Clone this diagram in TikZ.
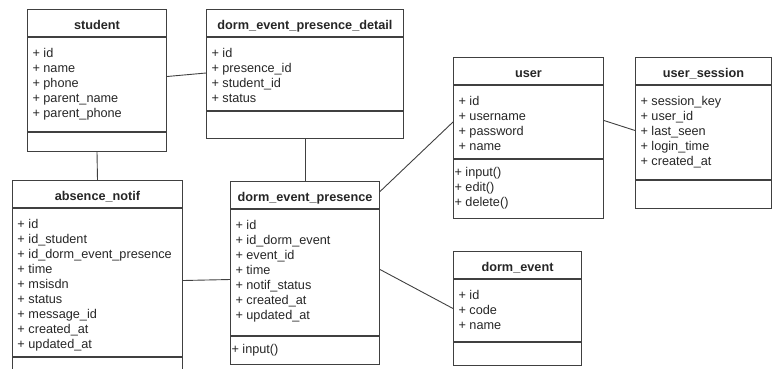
\documentclass[tikz,border=0pt]{standalone}
\usepackage{fontspec}
\setmainfont{Liberation Sans}
% one class = title, attributes, methods
\newcommand{\umlclass}[9]{%
  \node[uml, anchor=north west] (#1) at (#2,#3)
    {\parbox[t][27pt][t]{#4pt}{\centering\vspace*{9.5pt}\strut\bfseries #7}};
  \node[uml] (#1-a) at (#1.south)
    {\parbox[t][#5pt][t]{#4pt}{\raggedright\leftskip=5pt\vspace*{9.5pt}\strut #8}};
  \node[uml] (#1-m) at (#1-a.south)
    {\parbox[t][#6pt][t]{#4pt}{\raggedright\leftskip=1pt\vspace*{6pt}\strut #9}};
}
\begin{document}
\begin{tikzpicture}[x=1pt, y=-1pt,
    uml/.style={draw=black!75, line width=1pt, inner sep=0pt, anchor=north,
      text=black!85, font=\fontsize{12.7}{15}\selectfont},
    link/.style={draw=black!75, line width=0.9pt}]
  \useasboundingbox (0,0) rectangle (773,368);
  \clip (0,0) rectangle (773,368);

  \umlclass{student}{27}{9}{139}{94}{19}{student}
    {+ id\\+ name\\+ phone\\+ parent\_name\\+ parent\_phone}{}
  \umlclass{detail}{206}{9}{197}{73}{27}{dorm\_event\_presence\_detail}
    {+ id\\+ presence\_id\\+ student\_id\\+ status}{}
  \umlclass{user}{453}{57}{150}{73}{59}{user}
    {+ id\\+ username\\+ password\\+ name}{+ input()\\+ edit()\\+ delete()}
  \umlclass{session}{635}{57}{136}{94}{28}{user\_session}
    {+ session\_key\\+ user\_id\\+ last\_seen\\+ login\_time\\+ created\_at}{}
  \umlclass{absence}{12}{180}{170}{148}{30}{absence\_notif}
    {+ id\\+ id\_student\\+ id\_dorm\_event\_presence\\+ time\\+ msisdn\\+ status\\+ message\_id\\+ created\_at\\+ updated\_at}{}
  \umlclass{dep}{230}{181}{149}{126}{28}{dorm\_event\_presence}
    {+ id\\+ id\_dorm\_event\\+ event\_id\\+ time\\+ notif\_status\\+ created\_at\\+ updated\_at}{+ input()}
  \umlclass{devent}{453}{251}{128}{62}{23}{dorm\_event}
    {+ id\\+ code\\+ name}{}

  \draw[link] ([yshift=8pt]student-a.east) -- ([yshift=1pt]detail-a.west);
  \draw[link] (student-m.south) -- (absence.north);
  \draw[link] (detail-m.south) -- (dep.north);
  \draw[link] ([yshift=2pt]absence-a.east) -- ([yshift=-7pt]dep-a.west);
  \draw[link] ([yshift=3.5pt]dep.east) -- (user-a.west);
  \draw[link] ([yshift=3pt]dep-a.east) -- ([yshift=2pt]devent-a.west);
  \draw[link] ([yshift=1.5pt]user-a.east) -- ([yshift=2pt]session-a.west);
\end{tikzpicture}
\end{document}
